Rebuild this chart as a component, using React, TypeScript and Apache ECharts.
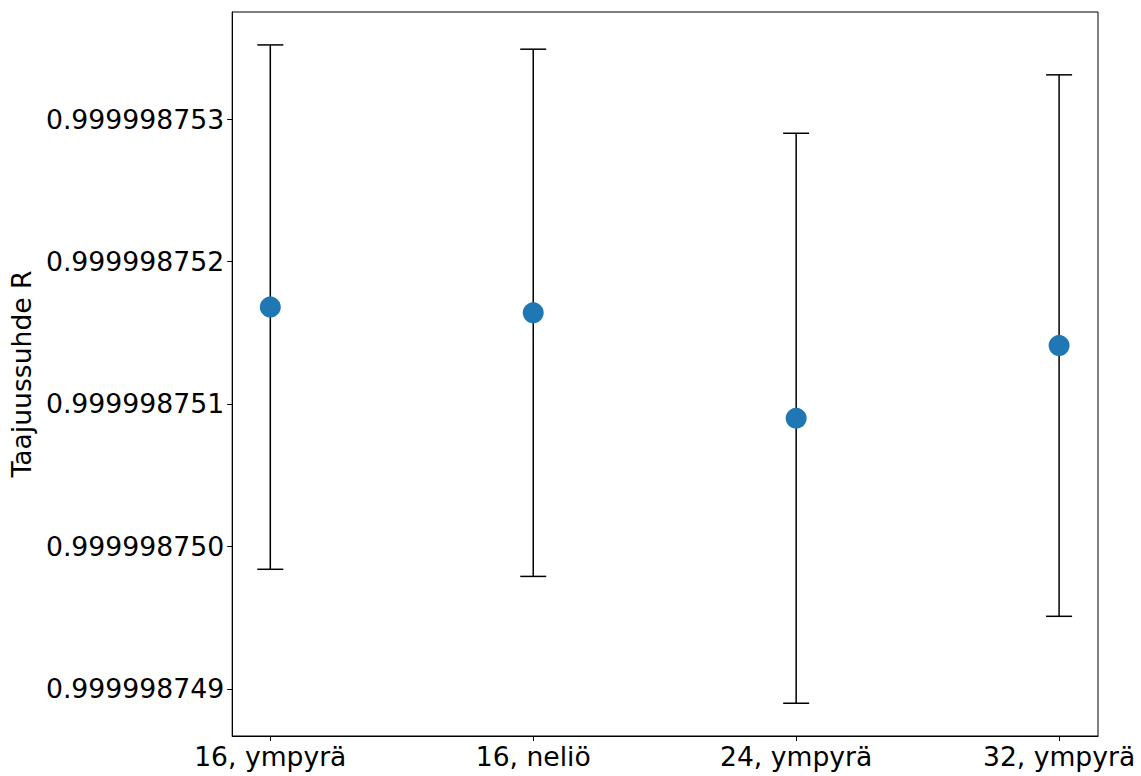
import React, { useEffect, useRef } from "react";
import * as echarts from "echarts";

// Data (values of the frequency ratio R)
const categories = ["16, ympyrä", "16, neliö", "24, ympyrä", "32, ympyrä"];
const ratioValues = [0.99999875168, 0.99999875164, 0.9999987509, 0.99999875141];
const ratioErrors = [0.00000000184, 0.00000000185, 0.000000002, 0.0000000019];
const yTickValues = [0.999998749, 0.99999875, 0.999998751, 0.999998752, 0.999998753];

// Offsets relative to BASE in units of 1e-9 to keep float precision
const BASE = 0.99999875;
const toOff = (v: number) => Math.round((v - BASE) * 1e13) / 1e4;

export default function App() {
  const ref = useRef<HTMLDivElement>(null);
  useEffect(() => {
    if (!ref.current) return;
    const chart = echarts.init(ref.current, undefined, { renderer: "svg" });
    const pts = ratioValues.map((v, i) => [i, toOff(v)]);
    const errs = ratioValues.map((v, i) => [i, toOff(v - ratioErrors[i]), toOff(v + ratioErrors[i])]);
    const yTicks = yTickValues.map(toOff);
    const font = "DejaVu Sans";
    chart.setOption({
      animation: false,
      backgroundColor: "#ffffff",
      grid: { left: 232, right: 43, top: 12, bottom: 40, show: true, borderColor: "#000", borderWidth: 1 },
      xAxis: {
        type: "value",
        min: -0.145,
        max: 3.148,
        splitLine: { show: false },
        axisLine: { show: true, onZero: false, lineStyle: { color: "#000", width: 1 } },
        axisTick: { show: true, inside: false, length: 5, lineStyle: { color: "#000" }, customValues: [0, 1, 2, 3] },
        axisLabel: {
          customValues: [0, 1, 2, 3],
          formatter: (v: number) => categories[Math.round(v)] ?? "",
          fontFamily: font,
          fontSize: 26.6,
          color: "#000",
          margin: 7,
        },
      },
      yAxis: {
        type: "value",
        min: -1.33,
        max: 3.751,
        name: "Taajuussuhde R",
        nameLocation: "middle",
        nameGap: 192,
        nameTextStyle: { fontFamily: font, fontSize: 26.6, color: "#000" },
        splitLine: { show: false },
        axisLine: { show: true, onZero: false, lineStyle: { color: "#000", width: 1 } },
        axisTick: { show: true, inside: false, length: 5, lineStyle: { color: "#000" }, customValues: yTicks },
        axisLabel: {
          customValues: yTicks,
          formatter: (v: number) => (BASE + v * 1e-9).toFixed(9),
          fontFamily: font,
          fontSize: 26.7,
          color: "#000",
          margin: 8,
        },
      },
      series: [
        {
          type: "custom",
          data: errs,
          encode: { x: 0, y: [1, 2] },
          z: 2,
          renderItem: (params: any, api: any) => {
            const x = api.value(0);
            const lo = api.coord([x, api.value(1)]);
            const hi = api.coord([x, api.value(2)]);
            const hw = 13;
            const style = { stroke: "#000", lineWidth: 1.5 };
            return {
              type: "group",
              children: [
                { type: "line", shape: { x1: lo[0], y1: lo[1], x2: hi[0], y2: hi[1] }, style },
                { type: "line", shape: { x1: lo[0] - hw, y1: lo[1], x2: lo[0] + hw, y2: lo[1] }, style },
                { type: "line", shape: { x1: hi[0] - hw, y1: hi[1], x2: hi[0] + hw, y2: hi[1] }, style },
              ],
            };
          },
        },
        {
          type: "scatter",
          data: pts,
          symbol: "circle",
          symbolSize: 21,
          z: 3,
          itemStyle: { color: "#1f77b4", opacity: 1 },
        },
      ],
    });
    return () => chart.dispose();
  }, []);
  return <div ref={ref} style={{ position: "absolute", left: 0, top: 0, width: 1141, height: 776 }} />;
}
